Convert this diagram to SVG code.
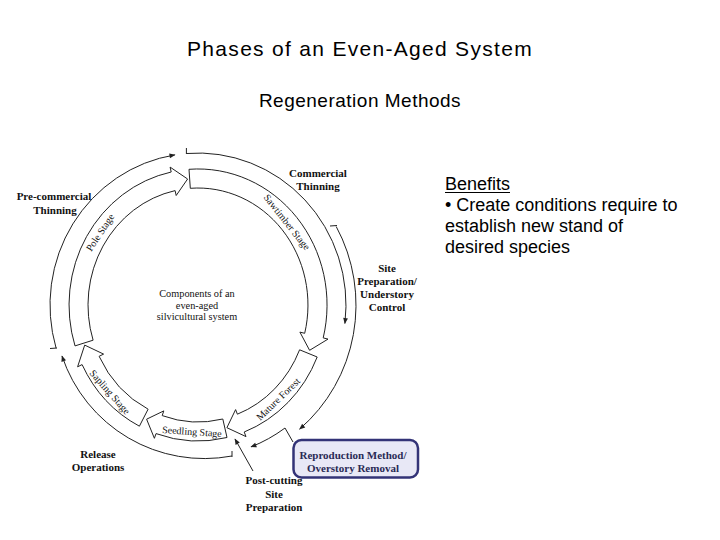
<svg xmlns="http://www.w3.org/2000/svg" width="720" height="540" viewBox="0 0 720 540">
<defs>
<style>
.band{fill:#fff;stroke:#222;stroke-width:1}
.arc{fill:none;stroke:#222;stroke-width:1}
.lbl{font-family:"Liberation Serif","Times New Roman",serif;font-weight:bold;font-size:11px;fill:#111;text-anchor:middle}
.stg{font-family:"Liberation Serif","Times New Roman",serif;font-size:10px;fill:#111;text-anchor:middle}
.cmp{font-family:"Liberation Serif","Times New Roman",serif;font-size:10.3px;fill:#111;text-anchor:middle}
.sans{font-family:"Liberation Sans",Arial,sans-serif;fill:#000}
</style>
<marker id="ah" viewBox="0 0 10 10" refX="9" refY="5" markerWidth="7" markerHeight="6" markerUnits="userSpaceOnUse" orient="auto"><path d="M0,1 L10,5 L0,9 Z" fill="#222"/></marker>
</defs>
<rect width="720" height="540" fill="#fff"/>
<text class="sans" x="360" y="56" font-size="21" letter-spacing="1.3" text-anchor="middle">Phases of an Even-Aged System</text>
<text class="sans" x="360" y="107" font-size="19" letter-spacing="0.5" text-anchor="middle">Regeneration Methods</text>
<g id="benefits" class="sans" font-size="18">
<text x="445" y="190">Benefits</text>
<line x1="445" y1="192.5" x2="510" y2="192.5" stroke="#000" stroke-width="1.2"/>
<text x="445" y="211">• Create conditions require to</text>
<text x="445" y="232">establish new stand of</text>
<text x="445" y="253">desired species</text>
</g>
<g id="stage-pole"><path class="band" d="M75,345.9 A129 136 0 0 1 171.2,172 L170.1,167.1 L187.6,179 L176.2,195.5 L175.1,190.6 A110 117 0 0 0 93.1,340.2 Z"/><text class="stg" transform="translate(100,232.4) rotate(-56.5)" y="3.5">Pole Stage</text></g>
<g id="stage-sawtimber"><path class="band" d="M189,169.3 A129 136 0 0 1 323.2,337.9 L328,339.1 L309.6,350.3 L299.9,332.1 L304.7,333.3 A110 117 0 0 0 190.3,188.3 Z"/><text class="stg" transform="translate(287,222) rotate(51.6)" y="3.5">Sawtimber Stage</text></g>
<g id="stage-mature"><path class="band" d="M317.2,357 A129 136 0 0 1 244.2,432 L246,436.6 L226.9,427.7 L235.6,409.6 L237.4,414.2 A110 117 0 0 0 299.6,349.8 Z"/><text class="stg" transform="translate(278,399) rotate(-44)" y="3.5">Mature Forest</text></g>
<g id="stage-seedling"><path class="band" d="M227,437.5 A129 136 0 0 1 156,433.6 L154.4,438.3 L146.6,419.2 L163.8,410.9 L162.2,415.6 A110 117 0 0 0 222.8,419 Z"/><text class="stg" transform="translate(192,431.5) rotate(4)" y="3.5">Seedling Stage</text></g>
<g id="stage-sapling"><path class="band" d="M139.4,426.2 A129 136 0 0 1 82.1,364.6 L77.6,366.8 L84.7,345.1 L103.6,354.1 L99.1,356.3 A110 117 0 0 0 148.1,409.2 Z"/><text class="stg" transform="translate(110,392) rotate(48.6)" y="3.5">Sapling Stage</text></g>
<g id="center-label">
<text class="cmp" x="197" y="297">Components of an</text>
<text class="cmp" x="197" y="309">even-aged</text>
<text class="cmp" x="197" y="320">silvicultural system</text>
</g>
<g id="connectors">
<path class="arc" d="M56.1,348.2 A148 152 0 0 1 174.9,154.9" marker-end="url(#ah)"/>
<path class="arc" d="M50,348.5 L57,348"/>
<path class="arc" d="M186.4,153.5 A148 152 0 0 1 344.9,323.5" marker-end="url(#ah)"/>
<path class="arc" d="M186.4,148 L186.4,154"/>
<path class="arc" d="M336.2,226.5 A158 162 0 0 1 299.6,429.1" marker-end="url(#ah)"/>
<path class="arc" d="M330,226 L337,225.5"/>
<path class="arc" d="M285,428 A148 152 0 0 1 251,446.9" marker-end="url(#ah)"/>
<path class="arc" d="M285,428 L293,442"/>
<path class="arc" d="M232,456 A150 150 0 0 1 62,356" marker-end="url(#ah)"/>
<path class="arc" d="M232,451 L232,457"/>
<path class="arc" d="M253,471 L235,439" marker-end="url(#ah)"/>
</g>
<g id="lbl-precommercial"><text class="lbl" x="54" y="200">Pre-commercial</text><text class="lbl" x="55" y="213.5">Thinning</text></g>
<g id="lbl-commercial"><text class="lbl" x="318" y="177">Commercial</text><text class="lbl" x="318" y="189.5">Thinning</text></g>
<g id="lbl-siteprep"><text class="lbl" x="387" y="272">Site</text><text class="lbl" x="387" y="285">Preparation/</text><text class="lbl" x="387" y="298">Understory</text><text class="lbl" x="387" y="311">Control</text></g>
<g id="lbl-release"><text class="lbl" x="98" y="458">Release</text><text class="lbl" x="98" y="471">Operations</text></g>
<g id="lbl-postcutting"><text class="lbl" x="274" y="484">Post-cutting</text><text class="lbl" x="274" y="497.5">Site</text><text class="lbl" x="274" y="510.5">Preparation</text></g>
<g id="box-reproduction">
<rect x="293.5" y="440" width="124.5" height="37.5" rx="8" fill="#e8e8f6" stroke="#333377" stroke-width="2.5"/>
<text class="lbl" x="353" y="459" font-size="11.5" fill="#2a2a55" style="fill:#2a2a55">Reproduction Method/</text>
<text class="lbl" x="353" y="472" font-size="11.5" style="fill:#2a2a55">Overstory Removal</text>
</g>
</svg>
